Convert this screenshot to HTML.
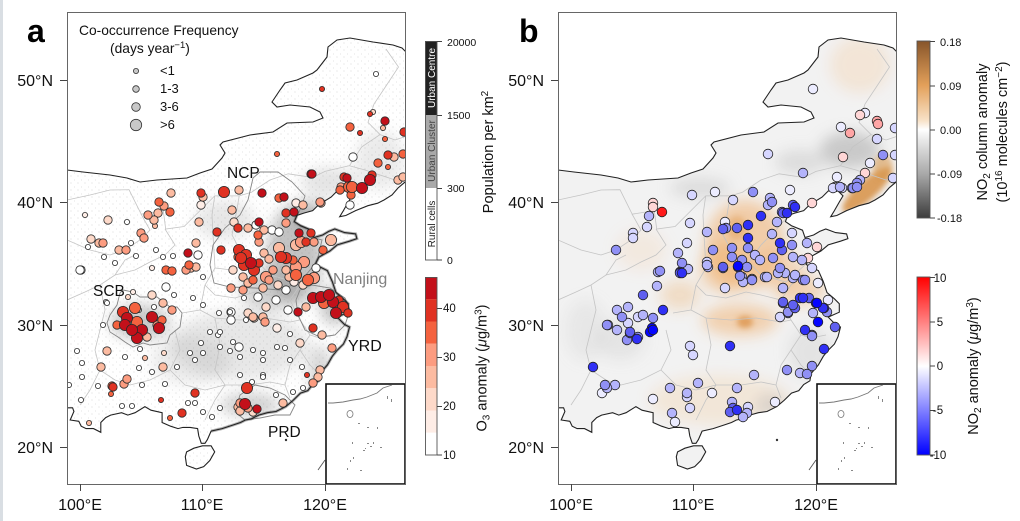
<!DOCTYPE html>
<html><head><meta charset="utf-8"><style>
html,body{margin:0;padding:0;background:#fff}
svg{display:block;font-family:"Liberation Sans",Arial,sans-serif}
</style></head><body>
<svg width="1020" height="521" viewBox="0 0 1020 521" xmlns="http://www.w3.org/2000/svg">
<defs>
<clipPath id="clipA"><rect x="67" y="12" width="338" height="472"/></clipPath>
<clipPath id="clipB"><rect x="558" y="12" width="338" height="472"/></clipPath>
<path id="cn" d="M60,170 L67,170 L83,172 L110,175 L127,178 L140,182 L157,180 L187,178 L200,173 L212,169 L222,158 L225,153 L220,145 L223,142 L250,135 L273,132 L287,123 L313,122 L323,118 L320,112 L310,107 L290,105 L277,107 L272,102 L280,90 L285,83 L297,80 L313,73 L317,70 L327,57 L328,47 L337,40 L350,38 L373,42 L393,45 L402,48 L406,52 L415,55 L415,180 L404.6,182.4 L398,188 L392,195 L384,200 L377.7,203.2 L367.9,205.7 L355.6,210.6 L345.8,215.5 L339.7,216.7 L343.4,210.6 L348.3,202 L352,195.9 L347,191 L337.2,191 L331.1,197.1 L318.9,204.5 L312.7,210.6 L304.2,213 L296.8,215.5 L294.4,221.6 L300.5,225.7 L311.5,230.2 L314,237.5 L322.6,235 L328.7,231.4 L334.8,229 L344.6,232.6 L355.6,233.9 L356.9,238.7 L349.5,241.2 L337.2,244.9 L329.9,251 L318.9,257.1 L315.2,264.5 L327.4,270.6 L332.3,281.6 L336,292.6 L343.4,298.8 L348.3,303.7 L348.3,312.2 L337.2,317.1 L344.6,324.5 L349.5,327 L347,336.7 L343.4,344.1 L337.2,350.2 L332.3,356.3 L327.4,364.9 L320.1,373.5 L318.9,380.8 L312.7,384.5 L307.8,390.6 L300.5,393.1 L293.1,400.4 L285.8,406.6 L276,411.5 L267.4,412.7 L258.8,415.1 L251.5,418.8 L245.4,420 L240.5,422.5 L233.1,425 L222.1,428.6 L211.1,431.1 L207.4,439.6 L205,443.3 L201.3,443.3 L198.8,436 L197.6,428.6 L190.2,427.4 L182.9,427.4 L178,428.6 L170.6,426.2 L162.1,422.5 L162.1,412.7 L151,410.2 L144.9,406.6 L135.1,412.7 L127.8,415.1 L121.6,412.7 L110.6,415.1 L105.7,417.6 L100.8,422.5 L100.8,432.3 L93.5,428.6 L86.1,428.6 L81.2,426.2 L78.8,421.3 L70.2,420 L73.9,411.5 L72.6,407.8 L66.5,407.8 L60,407.8 Z M185.3,456.8 L186.6,465.4 L196.4,469 L203.7,466.6 L209.8,460.5 L214.7,451.9 L211.1,445.8 L202.5,445.8 L193.9,448.2 L186.6,451.9 Z"/>
<clipPath id="cnClip"><use href="#cn"/></clipPath>
<g id="prov" fill="none" stroke="#c4c4c4" stroke-width="0.8">
<path d="M67,200 L90,195 L110,190 L129,189.7 L141.2,214.2 L163.3,210.6 L165.7,229 L184.1,226.5 L202.5,208.1 L214.7,195.9 L239.2,195.9 L251.5,192.2 L269.9,180 L288.2,173.8 L312.7,177.5 L325,171.4 L349.5,165.7 L361.7,146.9 L380.1,134.6 L368,122.4 L374,104 L386,86 L398.5,67 L386,49"/>
<path d="M380.1,134.6 L395,140 L410,135"/>
<path d="M349.5,165.7 L365,170 L380,175 L395,180 L410,178"/>
<path d="M239.2,195.9 L236,215 L232,235 L240,250 L245,265 L232,270 L215,268"/>
<path d="M214.7,195.9 L212,215 L213,235 L215,268"/>
<path d="M297,216 L285,230 L270,245 L258,262 L245,265 M258,262 L270,275 L295,282 L315,264"/>
<path d="M215,268 L205,285 L215,295 L235,298 L255,292 L270,295 L290,300 L300,285 L312,275 M290,300 L300,320 L310,335 L320,338 L335,335 M310,335 L300,350 L310,365 L320,375 M300,350 L290,365 L285,385 L290,398"/>
<path d="M205,285 L200,310 L215,318 L240,320 L265,318 L290,322 L300,320 M215,318 L220,345 L215,370 L225,385 L250,385 L270,382 L285,385 M225,385 L215,400 L205,420"/>
<path d="M175,330 L180,350 L170,370 L150,380 L130,385 L115,380 L100,370 M170,370 L185,385 L205,390 L225,385 M182,313 L200,310"/>
<path d="M67,300 L85,292 L100,285 L115,275 L135,270 L150,262 L165,255 L175,245 L165,229 M100,285 L105,310 L100,330 L95,350 L100,370 L90,390 L80,405"/>
<path d="M67,240 L90,250 L110,255 L125,250 L140,240 L150,230 L141,214 M115,275 L125,260 L135,255"/>
</g>
<g id="regs" fill="none" stroke="#858585" stroke-width="0.9">
<path d="M253,178 L260,172 L278,172 L292,182 L305,196 L300,210 L297,216 L294,222 L311,230 L314,238 L322,240 L318,257 L315,264 L300,282 L280,290 L255,288 L230,287 L214,283 L210,265 L213,245 L225,228 L240,215 L248,200 Z"/>
<path d="M123,290 L133,292 L140,297 L157,297 L170,307 L177,307 L182,313 L180,327 L170,335 L167,343 L150,345 L143,343 L133,347 L125,342 L118,337 L110,332 L107,323 L110,315 L117,305 L120,293 Z"/>
<path d="M300,290 L312,285 L330,288 L345,298 L350,310 L345,325 L335,335 L320,337 L305,330 L298,315 L296,300 Z"/>
<path d="M240,395 L255,385 L270,388 L285,395 L295,405 L290,415 L275,415 L260,418 L245,420 L235,412 Z"/>
</g>
<g id="inset">
<rect x="326" y="384" width="79" height="100" fill="#fff" stroke="#111" stroke-width="1.6"/>
<path d="M328,403 L333,403 L343,402 L353,400 L360,399 L367,397 L377,393 L383,388 L392,385" fill="none" stroke="#777" stroke-width="0.9"/>
<ellipse cx="350" cy="414" rx="3" ry="3.5" fill="none" stroke="#777" stroke-width="0.8"/>
<g fill="#888"><rect x="387" y="396" width="1" height="3"/><rect x="391" y="399" width="1" height="3"/><rect x="358" y="423" width="2" height="1"/><rect x="367" y="427" width="2" height="1"/><rect x="377" y="427" width="1" height="2"/><rect x="352" y="442" width="1" height="2"/><rect x="367" y="443" width="2" height="1"/><rect x="363" y="450" width="2" height="1"/><rect x="353" y="457" width="1" height="2"/><rect x="350" y="460" width="1" height="2"/><rect x="347" y="468" width="1" height="2"/><rect x="360" y="470" width="2" height="1"/><rect x="373" y="442" width="1" height="2"/><rect x="380" y="447" width="2" height="1"/><rect x="370" y="446" width="2" height="1"/><rect x="365" y="448" width="1" height="1"/></g>
</g>
<pattern id="speck" width="7" height="7" patternUnits="userSpaceOnUse"><circle cx="1" cy="1" r="0.55" fill="#777"/><circle cx="4.5" cy="5" r="0.45" fill="#888"/></pattern>
<filter id="bl" x="-60%" y="-60%" width="220%" height="220%"><feGaussianBlur stdDeviation="7"/></filter>
<filter id="bl2" x="-60%" y="-60%" width="220%" height="220%"><feGaussianBlur stdDeviation="3"/></filter>
<linearGradient id="gNo2c" x1="0" y1="0" x2="0" y2="1"><stop offset="0" stop-color="#87552a"/><stop offset="0.25" stop-color="#e3a05a"/><stop offset="0.45" stop-color="#f8e2c8"/><stop offset="0.5" stop-color="#ffffff"/><stop offset="0.56" stop-color="#e8e8e8"/><stop offset="0.75" stop-color="#a9a9a9"/><stop offset="1" stop-color="#3c3c3c"/></linearGradient>
<linearGradient id="gNo2" x1="0" y1="0" x2="0" y2="1"><stop offset="0" stop-color="#ff0000"/><stop offset="0.5" stop-color="#ffffff"/><stop offset="1" stop-color="#0000ff"/></linearGradient>
</defs>

<rect width="1020" height="521" fill="#fff"/>
<rect x="0" y="0" width="3" height="521" fill="#d9dee3"/>

<!-- ============ PANEL A ============ -->
<g clip-path="url(#clipA)">
  <g clip-path="url(#cnClip)">
    <rect x="67" y="12" width="338" height="472" fill="url(#speck)" opacity="0.35"/>
    <g fill="#7a7a7a" filter="url(#bl)">
      <ellipse cx="295" cy="255" rx="28" ry="50" opacity="0.45"/>
      <ellipse cx="310" cy="215" rx="20" ry="15" opacity="0.4"/>
      <ellipse cx="270" cy="290" rx="30" ry="20" opacity="0.35"/>
      <ellipse cx="335" cy="305" rx="15" ry="20" opacity="0.45"/>
      <ellipse cx="140" cy="322" rx="30" ry="18" opacity="0.4"/>
      <ellipse cx="240" cy="345" rx="70" ry="35" opacity="0.18"/>
      <ellipse cx="250" cy="405" rx="30" ry="12" opacity="0.35"/>
      <ellipse cx="190" cy="360" rx="40" ry="25" opacity="0.14"/>
      <ellipse cx="330" cy="182" rx="30" ry="15" opacity="0.2"/>
      <ellipse cx="380" cy="160" rx="25" ry="30" opacity="0.15"/>
      <ellipse cx="225" cy="220" rx="30" ry="20" opacity="0.18"/>
      <ellipse cx="320" cy="370" rx="12" ry="25" opacity="0.3"/>
    </g>
  </g>
  <use href="#prov"/>
  <use href="#regs"/>
  <path d="M296.8,215.5 L294.4,221.6 L300.5,225.7 L311.5,230.2 L314,237.5 L322.6,235 L328.7,231.4 L334.8,229 L344.6,232.6 L355.6,233.9 L356.9,238.7 L349.5,241.2 L337.2,244.9 L329.9,251 L318.9,257.1 L315.2,264.5 L327.4,270.6 L332.3,281.6 L336,292.6 L343.4,298.8 L348.3,303.7 L348.3,312.2 L337.2,317.1 L344.6,324.5 L349.5,327 L347,336.7 L343.4,344.1 L337.2,350.2 L332.3,356.3 L327.4,364.9 L320.1,373.5 L318.9,380.8 L312.7,384.5 L307.8,390.6 L300.5,393.1 L293.1,400.4 L285.8,406.6 L276,411.5 L267.4,412.7 L258.8,415.1 L251.5,418.8 L245.4,420 L240.5,422.5 L233.1,425 L222.1,428.6 L211.1,431.1" fill="none" stroke="#555" stroke-width="3" opacity="0.45"/>
  <use href="#cn" fill="none" stroke="#222" stroke-width="1.1"/>
  <path d="M318,470 L325,460" stroke="#555" stroke-width="0.9"/>
  <circle cx="286" cy="440" r="1.2" fill="#333"/>
  <g stroke="#2a2a2a" stroke-width="0.8">
  <g fill="#ffffff">
  <circle cx="127" cy="222" r="2.6"/><circle cx="88" cy="247" r="2.6"/><circle cx="131" cy="243" r="2.6"/><circle cx="136" cy="256" r="2.6"/><circle cx="104" cy="257" r="2.6"/><circle cx="115" cy="263" r="2.6"/><circle cx="156" cy="250" r="2.6"/><circle cx="163" cy="257" r="2.6"/><circle cx="173" cy="256" r="2.6"/><circle cx="81" cy="270" r="4.2"/><circle cx="198" cy="255" r="4.2"/><circle cx="272" cy="230" r="4.2"/><circle cx="256" cy="225" r="4.2"/><circle cx="279" cy="232" r="4.2"/><circle cx="316" cy="268" r="4.2"/><circle cx="286" cy="290" r="4.2"/><circle cx="288" cy="310" r="4.2"/><circle cx="276" cy="300" r="4.2"/><circle cx="244" cy="298" r="2.6"/><circle cx="258" cy="297" r="4.2"/><circle cx="231" cy="312" r="4.2"/><circle cx="231" cy="320" r="4.2"/><circle cx="219" cy="313" r="2.6"/><circle cx="246" cy="320" r="2.6"/><circle cx="193" cy="298" r="2.6"/><circle cx="203" cy="305" r="2.6"/><circle cx="203" cy="277" r="2.6"/><circle cx="166" cy="287" r="4.2"/><circle cx="174" cy="295" r="2.6"/><circle cx="154" cy="307" r="2.6"/><circle cx="139" cy="310" r="2.6"/><circle cx="106" cy="302" r="2.6"/>
  <circle cx="107" cy="303" r="2.6"/><circle cx="103" cy="325" r="2.6"/><circle cx="82" cy="363" r="2.6"/><circle cx="77" cy="351" r="2.6"/><circle cx="98" cy="386" r="2.6"/><circle cx="82" cy="377" r="2.6"/><circle cx="81" cy="400" r="2.6"/><circle cx="69" cy="385" r="2.6"/><circle cx="122" cy="406" r="2.6"/><circle cx="132" cy="406" r="2.6"/><circle cx="125" cy="357" r="2.6"/><circle cx="139" cy="368" r="2.6"/><circle cx="142" cy="385" r="2.6"/><circle cx="140" cy="349" r="2.6"/><circle cx="152" cy="372" r="2.6"/><circle cx="177" cy="367" r="2.6"/><circle cx="165" cy="384" r="2.6"/><circle cx="188" cy="403" r="2.6"/><circle cx="195" cy="403" r="2.6"/><circle cx="203" cy="412" r="2.6"/><circle cx="212" cy="417" r="2.6"/><circle cx="220" cy="408" r="2.6"/><circle cx="201" cy="343" r="2.6"/><circle cx="190" cy="353" r="2.6"/><circle cx="195" cy="360" r="2.6"/><circle cx="203" cy="353" r="2.6"/><circle cx="210" cy="332" r="2.6"/><circle cx="218" cy="335" r="2.6"/><circle cx="220" cy="347" r="2.6"/><circle cx="230" cy="351" r="2.6"/><circle cx="233" cy="342" r="2.6"/><circle cx="239" cy="347" r="4.2"/><circle cx="240" cy="357" r="2.6"/><circle cx="253" cy="350" r="2.6"/><circle cx="263" cy="353" r="2.6"/><circle cx="263" cy="360" r="2.6"/><circle cx="240" cy="375" r="2.6"/><circle cx="252" cy="382" r="2.6"/><circle cx="263" cy="375" r="2.6"/><circle cx="230" cy="312" r="2.6"/><circle cx="220" cy="332" r="2.6"/><circle cx="290" cy="334" r="2.6"/><circle cx="277" cy="347" r="2.6"/><circle cx="285" cy="348" r="2.6"/><circle cx="302" cy="367" r="2.6"/><circle cx="290" cy="360" r="2.6"/><circle cx="276" cy="395" r="2.6"/><circle cx="263" cy="377" r="2.6"/><circle cx="293" cy="392" r="2.6"/><circle cx="303" cy="388" r="2.6"/>
  <circle cx="376" cy="74" r="2.6"/><circle cx="353" cy="157" r="4.2"/><circle cx="350" cy="205" r="4.2"/><circle cx="80" cy="270" r="4.2"/>
  </g>
  <g fill="#feede6"><circle cx="201" cy="205" r="4.2"/><circle cx="85" cy="215" r="2.6"/><circle cx="152" cy="268" r="2.6"/><circle cx="296" cy="203" r="4.2"/><circle cx="294" cy="282" r="4.2"/><circle cx="133" cy="292" r="2.6"/><circle cx="277" cy="328" r="4.2"/></g>
  <g fill="#fdd9c9"><circle cx="108" cy="220" r="4.2"/><circle cx="91" cy="239" r="4.2"/><circle cx="234" cy="222" r="4.2"/><circle cx="233" cy="270" r="4.2"/><circle cx="278" cy="285" r="4.2"/><circle cx="303" cy="285" r="4.2"/><circle cx="266" cy="307" r="4.2"/><circle cx="254" cy="318" r="4.2"/><circle cx="128" cy="297" r="2.6"/><circle cx="152" cy="295" r="4.2"/><circle cx="164" cy="353" r="2.6"/><circle cx="248" cy="313" r="4.2"/><circle cx="300" cy="343" r="4.2"/><circle cx="253" cy="412" r="4.2"/><circle cx="373" cy="112" r="2.6"/></g>
  <g fill="#fcbba1"><circle cx="239" cy="190" r="4.2"/><circle cx="203" cy="197" r="4.2"/><circle cx="171" cy="193" r="4.2"/><circle cx="158" cy="213" r="4.2"/><circle cx="155" cy="226" r="2.6"/><circle cx="154" cy="220" r="4.2"/><circle cx="99" cy="243" r="4.2"/><circle cx="119" cy="250" r="4.2"/><circle cx="191" cy="268" r="4.2"/><circle cx="196" cy="267" r="4.2"/><circle cx="196" cy="243" r="4.2"/><circle cx="199" cy="222" r="4.2"/><circle cx="248" cy="228" r="4.2"/><circle cx="232" cy="210" r="4.2"/><circle cx="264" cy="253" r="4.2"/><circle cx="269" cy="259" r="4.2"/><circle cx="264" cy="230" r="4.2"/><circle cx="303" cy="205" r="4.2"/><circle cx="321" cy="203" r="4.2"/><circle cx="296" cy="245" r="5.6"/><circle cx="331" cy="240" r="5.6"/><circle cx="279" cy="248" r="5.6"/><circle cx="289" cy="277" r="4.2"/><circle cx="286" cy="270" r="4.2"/><circle cx="243" cy="277" r="4.2"/><circle cx="248" cy="283" r="4.2"/><circle cx="263" cy="288" r="4.2"/><circle cx="306" cy="307" r="4.2"/><circle cx="263" cy="317" r="4.2"/><circle cx="147" cy="337" r="4.2"/><circle cx="107" cy="351" r="4.2"/><circle cx="101" cy="367" r="4.2"/><circle cx="89" cy="423" r="2.6"/><circle cx="145" cy="358" r="2.6"/><circle cx="163" cy="303" r="4.2"/><circle cx="163" cy="367" r="4.2"/><circle cx="253" cy="317" r="4.2"/><circle cx="322" cy="335" r="4.2"/><circle cx="283" cy="403" r="4.2"/><circle cx="238" cy="407" r="4.2"/><circle cx="240" cy="411" r="4.2"/><circle cx="320" cy="370" r="4.2"/><circle cx="318" cy="377" r="4.2"/><circle cx="383" cy="128" r="2.6"/><circle cx="394" cy="157" r="4.2"/><circle cx="398" cy="180" r="4.2"/><circle cx="403" cy="177" r="4.2"/></g>
  <g fill="#fc9c80"><circle cx="341" cy="187" r="4.2"/><circle cx="164" cy="206" r="4.2"/><circle cx="148" cy="215" r="4.2"/><circle cx="141" cy="233" r="4.2"/><circle cx="144" cy="238" r="4.2"/><circle cx="103" cy="243" r="4.2"/><circle cx="126" cy="250" r="4.2"/><circle cx="186" cy="270" r="4.2"/><circle cx="259" cy="242" r="4.2"/><circle cx="286" cy="223" r="4.2"/><circle cx="301" cy="242" r="5.6"/><circle cx="314" cy="242" r="4.2"/><circle cx="304" cy="262" r="5.6"/><circle cx="296" cy="267" r="5.6"/><circle cx="273" cy="270" r="4.2"/><circle cx="266" cy="277" r="5.6"/><circle cx="231" cy="288" r="4.2"/><circle cx="243" cy="290" r="4.2"/><circle cx="269" cy="280" r="4.2"/><circle cx="314" cy="278" r="5.6"/><circle cx="157" cy="325" r="4.2"/><circle cx="124" cy="384" r="4.2"/><circle cx="127" cy="379" r="4.2"/><circle cx="172" cy="310" r="4.2"/><circle cx="265" cy="322" r="4.2"/><circle cx="332" cy="348" r="4.2"/><circle cx="240" cy="403" r="4.2"/><circle cx="248" cy="408" r="4.2"/><circle cx="313" cy="383" r="4.2"/><circle cx="320" cy="202" r="4.2"/></g>
  <g fill="#f4623f"><circle cx="349" cy="187" r="5.6"/><circle cx="351" cy="195" r="4.2"/><circle cx="159" cy="202" r="4.2"/><circle cx="170" cy="212" r="4.2"/><circle cx="166" cy="270" r="4.2"/><circle cx="172" cy="271" r="4.2"/><circle cx="189" cy="265" r="4.2"/><circle cx="238" cy="257" r="4.2"/><circle cx="258" cy="235" r="4.2"/><circle cx="279" cy="198" r="4.2"/><circle cx="323" cy="250" r="4.2"/><circle cx="293" cy="260" r="4.2"/><circle cx="296" cy="275" r="5.6"/><circle cx="253" cy="280" r="4.2"/><circle cx="308" cy="280" r="5.6"/><circle cx="324" cy="303" r="5.6"/><circle cx="135" cy="308" r="5.6"/><circle cx="137" cy="322" r="5.6"/><circle cx="117" cy="325" r="4.2"/><circle cx="162" cy="320" r="4.2"/><circle cx="112" cy="386" r="4.2"/><circle cx="111" cy="394" r="2.6"/><circle cx="170" cy="418" r="2.6"/><circle cx="350" cy="127" r="4.2"/><circle cx="385" cy="139" r="2.6"/><circle cx="403" cy="154" r="4.2"/><circle cx="378" cy="163" r="4.2"/><circle cx="388" cy="167" r="2.6"/><circle cx="277" cy="154" r="2.6"/><circle cx="352" cy="187" r="5.6"/><circle cx="340" cy="190" r="4.2"/></g>
  <g fill="#e03222"><circle cx="224" cy="192" r="5.6"/><circle cx="344" cy="177" r="4.2"/><circle cx="201" cy="193" r="4.2"/><circle cx="217" cy="232" r="4.2"/><circle cx="238" cy="228" r="4.2"/><circle cx="221" cy="250" r="4.2"/><circle cx="239" cy="250" r="5.6"/><circle cx="246" cy="255" r="5.6"/><circle cx="244" cy="265" r="5.6"/><circle cx="254" cy="270" r="5.6"/><circle cx="241" cy="258" r="5.6"/><circle cx="259" cy="263" r="4.2"/><circle cx="286" cy="213" r="4.2"/><circle cx="311" cy="233" r="4.2"/><circle cx="306" cy="242" r="4.2"/><circle cx="286" cy="258" r="5.6"/><circle cx="281" cy="257" r="5.6"/><circle cx="339" cy="300" r="4.2"/><circle cx="343" cy="307" r="5.6"/><circle cx="348" cy="313" r="4.2"/><circle cx="123" cy="312" r="5.6"/><circle cx="113" cy="387" r="4.2"/><circle cx="161" cy="400" r="2.6"/><circle cx="182" cy="413" r="4.2"/><circle cx="195" cy="393" r="4.2"/><circle cx="313" cy="328" r="4.2"/><circle cx="247" cy="388" r="5.6"/><circle cx="307" cy="375" r="2.6"/><circle cx="322" cy="89" r="2.6"/><circle cx="370" cy="114" r="2.6"/><circle cx="404" cy="132" r="4.2"/><circle cx="360" cy="133" r="2.6"/><circle cx="388" cy="155" r="4.2"/><circle cx="372" cy="175" r="4.2"/></g>
  <g fill="#c3101a"><circle cx="262" cy="193" r="4.2"/><circle cx="311" cy="174" r="4.2"/><circle cx="188" cy="253" r="4.2"/><circle cx="251" cy="263" r="5.6"/><circle cx="259" cy="222" r="4.2"/><circle cx="294" cy="212" r="4.2"/><circle cx="284" cy="197" r="4.2"/><circle cx="299" cy="233" r="4.2"/><circle cx="313" cy="298" r="5.6"/><circle cx="321" cy="297" r="5.6"/><circle cx="333" cy="302" r="5.6"/><circle cx="329" cy="295" r="5.6"/><circle cx="336" cy="313" r="5.6"/><circle cx="298" cy="312" r="4.2"/><circle cx="127" cy="318" r="5.6"/><circle cx="125" cy="325" r="5.6"/><circle cx="142" cy="330" r="5.6"/><circle cx="137" cy="338" r="5.6"/><circle cx="152" cy="317" r="5.6"/><circle cx="159" cy="328" r="5.6"/><circle cx="132" cy="330" r="5.6"/><circle cx="245" cy="404" r="5.6"/><circle cx="257" cy="409" r="4.2"/><circle cx="385" cy="121" r="4.2"/><circle cx="312" cy="174" r="4.2"/><circle cx="347" cy="178" r="4.2"/><circle cx="362" cy="188" r="5.6"/><circle cx="370" cy="180" r="5.6"/></g>
  </g>
  <use href="#inset"/>
</g>
<rect x="67.5" y="12.5" width="338" height="472" fill="none" stroke="#666" stroke-width="1"/>

<!-- axes A -->
<g stroke="#444" stroke-width="1">
<path d="M60,80.5 H67 M60,202.5 H67 M60,325.5 H67 M60,447.5 H67"/>
<path d="M80.5,484 V491 M202.5,484 V491 M325.5,484 V491"/>
</g>
<g font-size="16" fill="#111" text-anchor="end">
<text x="53" y="86">50°N</text><text x="53" y="208">40°N</text><text x="53" y="331">30°N</text><text x="53" y="453">20°N</text>
</g>
<g font-size="16" fill="#111" text-anchor="middle">
<text x="80" y="510">100°E</text><text x="202" y="510">110°E</text><text x="325" y="510">120°E</text>
</g>
<text x="27" y="42" font-size="32" font-weight="bold" fill="#000">a</text>

<!-- legend A -->
<text x="79" y="35" font-size="13.8" fill="#111">Co-occurrence Frequency</text>
<text x="110" y="53" font-size="13.8" fill="#111">(days year<tspan font-size="9.5" dy="-5">−1</tspan><tspan dy="5">)</tspan></text>
<g fill="#c8c8c8" stroke="#333" stroke-width="0.8">
<circle cx="136" cy="71" r="2.6"/><circle cx="136" cy="89" r="3.3"/><circle cx="136" cy="107" r="4.3"/><circle cx="136" cy="125" r="5.7"/>
</g>
<g font-size="13" fill="#111">
<text x="160" y="75">&lt;1</text><text x="160" y="93">1-3</text><text x="160" y="111">3-6</text><text x="160" y="129">&gt;6</text>
</g>
<g font-size="15.5" fill="#111">
<text x="227" y="178">NCP</text>
<text x="93" y="296">SCB</text>
<text x="348" y="351" font-size="16">YRD</text>
<text x="268" y="437">PRD</text>
</g>
<text x="333" y="284" font-size="16" fill="#808080">Nanjing</text>

<!-- colorbars A -->
<rect x="425" y="41" width="12" height="74" fill="#222"/>
<rect x="425" y="115" width="12" height="73" fill="#a9a9a9"/>
<rect x="425" y="188" width="12" height="72" fill="#fff"/>
<rect x="425.5" y="41.5" width="11.5" height="218.5" fill="none" stroke="#555" stroke-width="0.9"/>
<text transform="translate(434.8,78) rotate(-90)" text-anchor="middle" font-size="10" fill="#fff">Urban Centre</text>
<text transform="translate(434.8,151) rotate(-90)" text-anchor="middle" font-size="10" fill="#444">Urban Cluster</text>
<text transform="translate(434.8,224) rotate(-90)" text-anchor="middle" font-size="10" fill="#222">Rural cells</text>
<g stroke="#444" stroke-width="1"><path d="M437,41.5 H442 M437,115.5 H442 M437,188.5 H442 M437,260 H442"/></g>
<g font-size="10.5" fill="#111"><text x="447" y="46">20000</text><text x="447" y="119">1500</text><text x="447" y="192">300</text><text x="447" y="264">0</text></g>
<text transform="translate(493,152) rotate(-90)" text-anchor="middle" font-size="14.5" fill="#111">Population per km<tspan font-size="10" dy="-5">2</tspan></text>

<rect x="425" y="277" width="12" height="22.3" fill="#c3101a"/>
<rect x="425" y="299.2" width="12" height="22.3" fill="#e03222"/>
<rect x="425" y="321.5" width="12" height="22.3" fill="#f4623f"/>
<rect x="425" y="343.7" width="12" height="22.3" fill="#fc9c80"/>
<rect x="425" y="366" width="12" height="22.3" fill="#fcbba1"/>
<rect x="425" y="388.2" width="12" height="22.3" fill="#fdd9c9"/>
<rect x="425" y="410.5" width="12" height="22.3" fill="#feede6"/>
<rect x="425" y="432.7" width="12" height="22.3" fill="#fff"/>
<rect x="425.5" y="277.5" width="11.5" height="177.5" fill="none" stroke="#555" stroke-width="0.9"/>
<g stroke="#444" stroke-width="1"><path d="M437,308.5 H442 M437,357.5 H442 M437,406.5 H442 M437,455 H442"/></g>
<g font-size="11.5" fill="#111"><text x="443" y="312">40</text><text x="443" y="361">30</text><text x="443" y="410">20</text><text x="443" y="459">10</text></g>
<text transform="translate(486.5,368) rotate(-90)" text-anchor="middle" font-size="14.5" fill="#111">O<tspan font-size="10" dy="3">3</tspan><tspan dy="-3"> anomaly (</tspan><tspan font-style="italic">μ</tspan>g/m<tspan font-size="10" dy="-5">3</tspan><tspan dy="5">)</tspan></text>

<!-- ============ PANEL B ============ -->
<g transform="translate(491,0)">
<g clip-path="url(#clipA)">
  <use href="#cn" fill="#f2f2f2"/>
  <g clip-path="url(#cnClip)">
    <g filter="url(#bl)">
      <ellipse cx="254" cy="245" rx="40" ry="45" fill="#f0a860" opacity="0.5"/>
      <ellipse cx="234" cy="268" rx="25" ry="25" fill="#f0a860" opacity="0.45"/>
      <ellipse cx="289" cy="270" rx="25" ry="20" fill="#f0a860" opacity="0.35"/>
      <ellipse cx="249" cy="320" rx="38" ry="16" fill="#f0a860" opacity="0.45"/>
      <ellipse cx="309" cy="290" rx="25" ry="15" fill="#f0a860" opacity="0.4"/>
      <ellipse cx="229" cy="400" rx="70" ry="25" fill="#f5c898" opacity="0.28"/>
      <ellipse cx="369" cy="65" rx="30" ry="28" fill="#f5c898" opacity="0.3"/>
      <ellipse cx="189" cy="295" rx="20" ry="15" fill="#f0a860" opacity="0.3"/>
      <ellipse cx="150" cy="250" rx="25" ry="20" fill="#f5c898" opacity="0.2"/>
      <ellipse cx="359" cy="150" rx="30" ry="18" fill="#a8a8a8" opacity="0.55"/>
      <ellipse cx="309" cy="162" rx="25" ry="12" fill="#b5b5b5" opacity="0.35"/>
      <ellipse cx="209" cy="188" rx="30" ry="10" fill="#b5b5b5" opacity="0.35"/>
      <ellipse cx="319" cy="352" rx="22" ry="25" fill="#c0c0c0" opacity="0.3"/>
      <ellipse cx="129" cy="340" rx="25" ry="20" fill="#c0c0c0" opacity="0.25"/>
      <ellipse cx="279" cy="405" rx="15" ry="12" fill="#b0b0b0" opacity="0.35"/>
      <ellipse cx="95" cy="330" rx="20" ry="30" fill="#c8c8c8" opacity="0.25"/>
    </g>
    <g filter="url(#bl2)">
      <ellipse cx="376" cy="190" rx="32" ry="10" transform="rotate(-42 376 190)" fill="#d4893a" opacity="0.8"/>
      <ellipse cx="392" cy="168" rx="10" ry="14" fill="#d99a50" opacity="0.6"/>
      <ellipse cx="254" cy="322" rx="8" ry="6" fill="#d88a3a" opacity="0.7"/>
      <ellipse cx="246" cy="228" rx="10" ry="12" fill="#e09a50" opacity="0.45"/>
    </g>
  </g>
  <use href="#prov"/>
  <use href="#cn" fill="none" stroke="#222" stroke-width="1.1"/>
  <path d="M318,470 L325,460" stroke="#555" stroke-width="0.9"/>
  <circle cx="286" cy="440" r="1.2" fill="#333"/>
  <use href="#inset"/>
</g>
</g>
<g clip-path="url(#clipB)" stroke="#222" stroke-width="0.8">
<g fill="#ececff">
<circle cx="813" cy="89" r="4.8"/><circle cx="865" cy="113" r="4.8"/><circle cx="841" cy="127" r="4.8"/><circle cx="870" cy="163" r="4.8"/><circle cx="837" cy="177" r="4.8"/><circle cx="715" cy="192" r="4.8"/><circle cx="790" cy="190" r="4.8"/><circle cx="725" cy="222" r="4.8"/><circle cx="818" cy="283" r="4.8"/><circle cx="828" cy="300" r="4.8"/><circle cx="835" cy="187" r="4.8"/><circle cx="602" cy="393" r="4.8"/><circle cx="712" cy="393" r="4.8"/><circle cx="653" cy="399" r="4.8"/><circle cx="675" cy="422" r="4.8"/><circle cx="775" cy="402" r="4.8"/>
</g>
<g fill="#ffd6d6"><circle cx="860" cy="115" r="4.8"/><circle cx="843" cy="157" r="4.8"/><circle cx="865" cy="173" r="4.8"/><circle cx="653" cy="203" r="4.8"/><circle cx="653" cy="207" r="4.8"/><circle cx="808" cy="258" r="4.8"/><circle cx="817" cy="247" r="4.8"/><circle cx="812" cy="203" r="4.8"/></g>
<g fill="#ffa5a5"><circle cx="877" cy="121" r="4.8"/><circle cx="878" cy="124" r="4.8"/><circle cx="850" cy="133" r="4.8"/></g>
<g fill="#ff1a1a"><circle cx="662" cy="212" r="4.8"/></g>
<g fill="#d6d6ff">
<circle cx="895" cy="128" r="4.8"/><circle cx="877" cy="139" r="4.8"/><circle cx="768" cy="154" r="4.8"/><circle cx="895" cy="155" r="4.8"/><circle cx="893" cy="178" r="4.8"/><circle cx="833" cy="188" r="4.8"/><circle cx="842" cy="188" r="4.8"/><circle cx="692" cy="195" r="4.8"/><circle cx="733" cy="200" r="4.8"/><circle cx="647" cy="227" r="4.8"/><circle cx="633" cy="233" r="4.8"/><circle cx="633" cy="238" r="4.8"/><circle cx="690" cy="223" r="4.8"/><circle cx="687" cy="243" r="4.8"/><circle cx="707" cy="262" r="4.8"/><circle cx="725" cy="288" r="4.8"/><circle cx="752" cy="279" r="4.8"/><circle cx="792" cy="233" r="4.8"/><circle cx="812" cy="268" r="4.8"/><circle cx="780" cy="317" r="4.8"/><circle cx="628" cy="323" r="4.8"/><circle cx="638" cy="317" r="4.8"/><circle cx="690" cy="346" r="4.8"/><circle cx="693" cy="355" r="4.8"/><circle cx="687" cy="397" r="4.8"/><circle cx="690" cy="408" r="4.8"/><circle cx="748" cy="407" r="4.8"/><circle cx="783" cy="288" r="4.8"/>
</g>
<g fill="#b4b4fb">
<circle cx="803" cy="173" r="4.8"/><circle cx="860" cy="180" r="4.8"/><circle cx="770" cy="198" r="4.8"/><circle cx="768" cy="205" r="4.8"/><circle cx="649" cy="216" r="4.8"/><circle cx="678" cy="253" r="4.8"/><circle cx="688" cy="269" r="4.8"/><circle cx="708" cy="267" r="4.8"/><circle cx="707" cy="232" r="4.8"/><circle cx="777" cy="222" r="4.8"/><circle cx="755" cy="255" r="4.8"/><circle cx="742" cy="277" r="4.8"/><circle cx="743" cy="282" r="4.8"/><circle cx="760" cy="260" r="4.8"/><circle cx="765" cy="277" r="4.8"/><circle cx="772" cy="234" r="4.8"/><circle cx="807" cy="243" r="4.8"/><circle cx="793" cy="257" r="4.8"/><circle cx="802" cy="260" r="4.8"/><circle cx="785" cy="273" r="4.8"/><circle cx="793" cy="278" r="4.8"/><circle cx="783" cy="288" r="4.8"/><circle cx="813" cy="313" r="4.8"/><circle cx="840" cy="187" r="4.8"/><circle cx="852" cy="188" r="4.8"/><circle cx="628" cy="307" r="4.8"/><circle cx="617" cy="310" r="4.8"/><circle cx="643" cy="315" r="4.8"/><circle cx="608" cy="325" r="4.8"/><circle cx="617" cy="330" r="4.8"/><circle cx="658" cy="272" r="4.8"/><circle cx="657" cy="286" r="4.8"/><circle cx="707" cy="265" r="4.8"/><circle cx="767" cy="277" r="4.8"/><circle cx="778" cy="273" r="4.8"/><circle cx="795" cy="275" r="4.8"/><circle cx="800" cy="373" r="4.8"/><circle cx="754" cy="375" r="4.8"/><circle cx="615" cy="385" r="4.8"/><circle cx="607" cy="388" r="4.8"/><circle cx="698" cy="383" r="4.8"/><circle cx="670" cy="388" r="4.8"/><circle cx="687" cy="393" r="4.8"/><circle cx="737" cy="388" r="4.8"/><circle cx="672" cy="413" r="4.8"/><circle cx="732" cy="402" r="4.8"/><circle cx="747" cy="413" r="4.8"/><circle cx="743" cy="417" r="4.8"/>
</g>
<g fill="#9090f5">
<circle cx="883" cy="155" r="4.8"/><circle cx="857" cy="183" r="4.8"/><circle cx="853" cy="188" r="4.8"/><circle cx="753" cy="192" r="4.8"/><circle cx="772" cy="202" r="4.8"/><circle cx="782" cy="212" r="4.8"/><circle cx="616" cy="250" r="4.8"/><circle cx="682" cy="263" r="4.8"/><circle cx="660" cy="271" r="4.8"/><circle cx="723" cy="268" r="4.8"/><circle cx="713" cy="250" r="4.8"/><circle cx="726" cy="228" r="4.8"/><circle cx="732" cy="248" r="4.8"/><circle cx="732" cy="257" r="4.8"/><circle cx="742" cy="260" r="4.8"/><circle cx="748" cy="248" r="4.8"/><circle cx="747" cy="267" r="4.8"/><circle cx="773" cy="258" r="4.8"/><circle cx="792" cy="245" r="4.8"/><circle cx="780" cy="268" r="4.8"/><circle cx="803" cy="280" r="4.8"/><circle cx="783" cy="303" r="4.8"/><circle cx="788" cy="313" r="4.8"/><circle cx="812" cy="335" r="4.8"/><circle cx="827" cy="312" r="4.8"/><circle cx="857" cy="187" r="4.8"/><circle cx="622" cy="317" r="4.8"/><circle cx="653" cy="318" r="4.8"/><circle cx="638" cy="337" r="4.8"/><circle cx="607" cy="325" r="4.8"/><circle cx="627" cy="340" r="4.8"/><circle cx="740" cy="276" r="4.8"/><circle cx="752" cy="280" r="4.8"/><circle cx="805" cy="280" r="4.8"/><circle cx="787" cy="370" r="4.8"/><circle cx="812" cy="366" r="4.8"/><circle cx="807" cy="374" r="4.8"/><circle cx="605" cy="385" r="4.8"/><circle cx="788" cy="312" r="4.8"/><circle cx="812" cy="336" r="4.8"/>
</g>
<g fill="#6060f0">
<circle cx="680" cy="272" r="4.8"/><circle cx="737" cy="228" r="4.8"/><circle cx="782" cy="250" r="4.8"/><circle cx="809" cy="298" r="4.8"/><circle cx="795" cy="308" r="4.8"/><circle cx="835" cy="327" r="4.8"/><circle cx="643" cy="295" r="4.8"/><circle cx="630" cy="333" r="4.8"/><circle cx="793" cy="205" r="4.8"/><circle cx="783" cy="213" r="4.8"/><circle cx="723" cy="229" r="4.8"/><circle cx="680" cy="273" r="4.8"/><circle cx="723" cy="267" r="4.8"/><circle cx="783" cy="302" r="4.8"/><circle cx="793" cy="305" r="4.8"/><circle cx="733" cy="408" r="4.8"/><circle cx="730" cy="412" r="4.8"/><circle cx="630" cy="332" r="4.8"/>
</g>
<g fill="#3030f5">
<circle cx="795" cy="207" r="4.8"/><circle cx="787" cy="213" r="4.8"/><circle cx="748" cy="225" r="4.8"/><circle cx="748" cy="238" r="4.8"/><circle cx="761" cy="216" r="4.8"/><circle cx="780" cy="243" r="4.8"/><circle cx="800" cy="298" r="4.8"/><circle cx="824" cy="308" r="4.8"/><circle cx="805" cy="330" r="4.8"/><circle cx="663" cy="310" r="4.8"/><circle cx="682" cy="273" r="4.8"/><circle cx="738" cy="267" r="4.8"/><circle cx="803" cy="298" r="4.8"/><circle cx="823" cy="308" r="4.8"/><circle cx="637" cy="339" r="4.8"/><circle cx="730" cy="346" r="4.8"/><circle cx="824" cy="349" r="4.8"/><circle cx="593" cy="367" r="4.8"/><circle cx="737" cy="410" r="4.8"/>
</g>
<g fill="#0505ff">
<circle cx="738" cy="266" r="4.8"/><circle cx="816" cy="303" r="4.8"/><circle cx="818" cy="322" r="4.8"/><circle cx="652" cy="328" r="4.8"/><circle cx="650" cy="332" r="4.8"/><circle cx="653" cy="330" r="4.8"/><circle cx="817" cy="303" r="4.8"/>
</g>
</g>
<rect x="558.5" y="12.5" width="338" height="472" fill="none" stroke="#666" stroke-width="1"/>

<!-- axes B -->
<g stroke="#444" stroke-width="1">
<path d="M551,80.5 H558 M551,202.5 H558 M551,325.5 H558 M551,447.5 H558"/>
<path d="M571.5,484 V491 M693.5,484 V491 M816.5,484 V491"/>
</g>
<g font-size="16" fill="#111" text-anchor="end">
<text x="544" y="86">50°N</text><text x="544" y="208">40°N</text><text x="544" y="331">30°N</text><text x="544" y="453">20°N</text>
</g>
<g font-size="16" fill="#111" text-anchor="middle">
<text x="571" y="510">100°E</text><text x="693" y="510">110°E</text><text x="816" y="510">120°E</text>
</g>
<text x="519" y="42" font-size="32" font-weight="bold" fill="#000">b</text>

<!-- colorbars B -->
<rect x="917" y="41" width="13" height="177" fill="url(#gNo2c)" stroke="#555" stroke-width="0.9"/>
<g stroke="#444" stroke-width="1"><path d="M930,41.5 H935 M930,86 H935 M930,130 H935 M930,174 H935 M930,218 H935"/></g>
<g font-size="11" fill="#111"><text x="940" y="46">0.18</text><text x="940" y="90">0.09</text><text x="940" y="134">0.00</text><text x="937" y="178">-0.09</text><text x="937" y="222">-0.18</text></g>
<text transform="translate(987,132) rotate(-90)" text-anchor="middle" font-size="14.5" fill="#111">NO<tspan font-size="10" dy="3">2</tspan><tspan dy="-3"> column anomaly</tspan></text>
<text transform="translate(1007,132) rotate(-90)" text-anchor="middle" font-size="14.5" fill="#111">(10<tspan font-size="10" dy="-5">16</tspan><tspan dy="5"> molecules cm</tspan><tspan font-size="10" dy="-5">−2</tspan><tspan dy="5">)</tspan></text>

<rect x="917" y="277" width="13" height="178" fill="url(#gNo2)" stroke="#555" stroke-width="0.9"/>
<g stroke="#444" stroke-width="1"><path d="M930,277.5 H935 M930,322 H935 M930,366 H935 M930,410.5 H935 M930,455 H935"/></g>
<g font-size="11.5" fill="#111" text-anchor="middle"><text x="940" y="282">10</text><text x="940" y="326">5</text><text x="940" y="370">0</text><text x="938" y="414">-5</text><text x="938" y="459">-10</text></g>
<text transform="translate(978,366) rotate(-90)" text-anchor="middle" font-size="14.5" fill="#111">NO<tspan font-size="10" dy="3">2</tspan><tspan dy="-3"> anomaly (</tspan><tspan font-style="italic">μ</tspan>g/m<tspan font-size="10" dy="-5">3</tspan><tspan dy="5">)</tspan></text>
</svg>
</body></html>
